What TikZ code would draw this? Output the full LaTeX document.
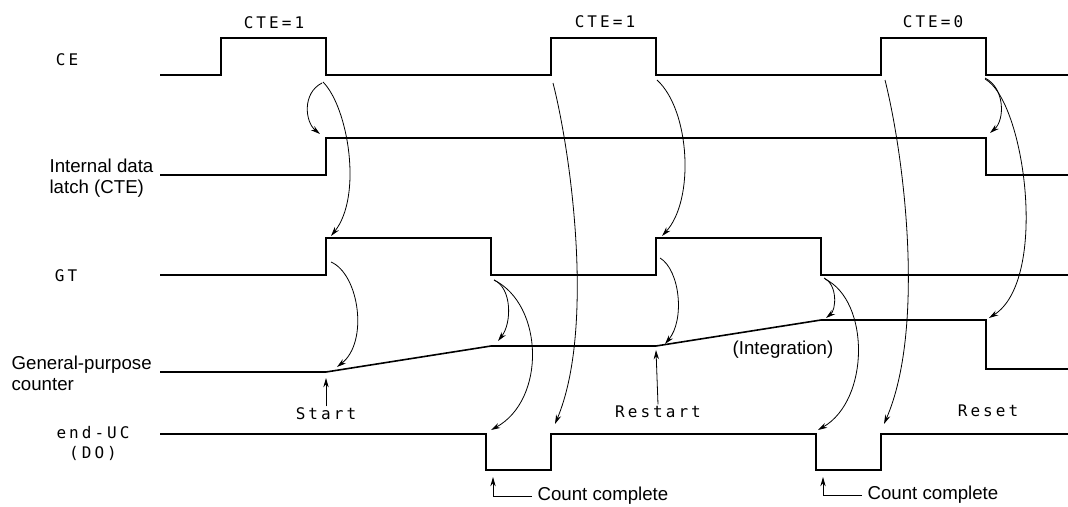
\documentclass[tikz,border=0pt]{standalone}
\usepackage{fontspec}
\setmainfont{Liberation Sans}
\newfontfamily\plotfont[LetterSpace=19]{DejaVu Sans Mono}
\usetikzlibrary{arrows.meta}
\begin{document}
\begin{tikzpicture}[>={Stealth[length=7pt,width=4pt]},x=0.75pt,y=-0.75pt,
  sig/.style={line width=1.2pt,line join=miter},
  cause/.style={->,line width=0.6pt},
  txt/.style={font=\fontsize{14}{16}\selectfont,inner sep=1pt},
  plot/.style={font=\plotfont\fontsize{12}{15}\selectfont,inner sep=1pt}]
\useasboundingbox (0,0) rectangle (1068,507);
% cac muc tin hieu
\draw[sig] (160,75)--(221,75)--(221,38)--(326,38)--(326,75) coordinate (cef1)
  --(551,75) coordinate (cer2)--(551,38)--(656,38)--(656,75) coordinate (cef2)
  --(881,75) coordinate (cer3)--(881,38)--(986,38)--(986,75) coordinate (cef3)--(1068,75);
\draw[sig] (160,175)--(326,175)--(326,138) coordinate (lr)
  --(986,138) coordinate (lf)--(986,175)--(1068,175);
\draw[sig] (160,275)--(326,275)--(326,238) coordinate (gr1)--(491,238)--(491,275) coordinate (gf1)
  --(656,275)--(656,238) coordinate (gr2)--(821,238)--(821,275) coordinate (gf2)--(1068,275);
\draw[sig] (160,372)--(326,372) coordinate (c0)--(491,346) coordinate (c1)
  --(656,346) coordinate (c2)--(821,320) coordinate (c3)--(986,320) coordinate (c4)
  --(986,369)--(1068,369);
\draw[sig] (160,434)--(486,434) coordinate (ef1)--(486,470)--(551,470)--(551,434) coordinate (er1)
  --(816,434) coordinate (ef2)--(816,470)--(881,470)--(881,434) coordinate (er2)--(1068,434);
% ten tin hieu
\node[plot] (nCE) at (67,60) {CE};
\node[txt,anchor=west,align=left] (nLatch) at (48,178) {Internal data\\latch (CTE)};
\node[plot] (nGT) at (66,276) {GT};
\node[txt,anchor=west,align=left] (nCnt) at (10,373) {General-purpose\\counter};
\node[plot,align=center] (nEnd) at (93,443) {end-UC\\(DO)};
\node[plot] (cte1) at (274,23) {CTE=1};
\node[plot] (cte2) at (605,22) {CTE=1};
\node[plot] (cte3) at (933,22) {CTE=0};
\node[plot] (lStart) at (326,414) {Start};
\node[plot] (lRestart) at (658,412) {Restart};
\node[plot] (lReset) at (988,411) {Reset};
\node[txt] (lInt) at (783,350) {(Integration)};
\node[txt,anchor=west] (lcc1) at (536,496) {Count complete};
\node[txt,anchor=west] (lcc2) at (866,495) {Count complete};
% cac mui ten cong
\draw[cause] ([shift={(-4,8)}]cef1) .. controls +(-20,10) and +(-15,-12) .. ([shift={(-6,-4)}]lr);
\draw[cause] ([shift={(-3,7)}]cef1) .. controls +(25,25) and +(32,-40) .. ([shift={(5,-2)}]gr1);
\draw[cause] ([shift={(5,24)}]gr1) .. controls +(28,12) and +(32,-25) .. ([shift={(11,-5)}]c0);
\draw[cause] ([shift={(3,5)}]gf1) .. controls +(18,8) and +(14,-18) .. ([shift={(7,-5)}]c1);
\draw[cause] ([shift={(3,5)}]gf1) .. controls +(50,25) and +(55,-30) .. ([shift={(5,-4)}]ef1);
\draw[cause] ([shift={(2,8)}]cer2) .. controls +(18,70) and +(40,-95) .. ([shift={(4,-10)}]er1);
\draw[cause] ([shift={(1,5)}]cef2) .. controls +(33,30) and +(33,-36) .. ([shift={(6,-2)}]gr2);
\draw[cause] ([shift={(4,20)}]gr2) .. controls +(20,12) and +(20,-24) .. ([shift={(9,-2)}]c2);
\draw[cause] ([shift={(3,3)}]gf2) .. controls +(14,7) and +(10,-8) .. ([shift={(5,-2)}]c3);
\draw[cause] ([shift={(4,4)}]gf2) .. controls +(45,22) and +(52,-30) .. ([shift={(2,-4)}]ef2);
\draw[cause] ([shift={(4,5)}]cer3) .. controls +(20,80) and +(41,-94) .. ([shift={(3,-10)}]er2);
\draw[cause] ([shift={(-1,3)}]cef3) .. controls +(20,10) and +(15,-13) .. ([shift={(4,-5)}]lf);
\draw[cause] ([shift={(-1,4)}]cef3) .. controls +(40,22) and +(60,-38) .. ([shift={(3,-2)}]c4);
% start, restart, count complete
\draw[cause] (lStart.north) -- ([shift={(0,6)}]c0);
\draw[cause] (lRestart.north) -- ([shift={(0,4)}]c2);
\draw[cause] ([xshift=-3pt]lcc1.west) -| ([shift={(7,43)}]ef1);
\draw[cause] ([xshift=-3pt]lcc2.west) -| ([shift={(7,43)}]ef2);
\end{tikzpicture}
\end{document}
